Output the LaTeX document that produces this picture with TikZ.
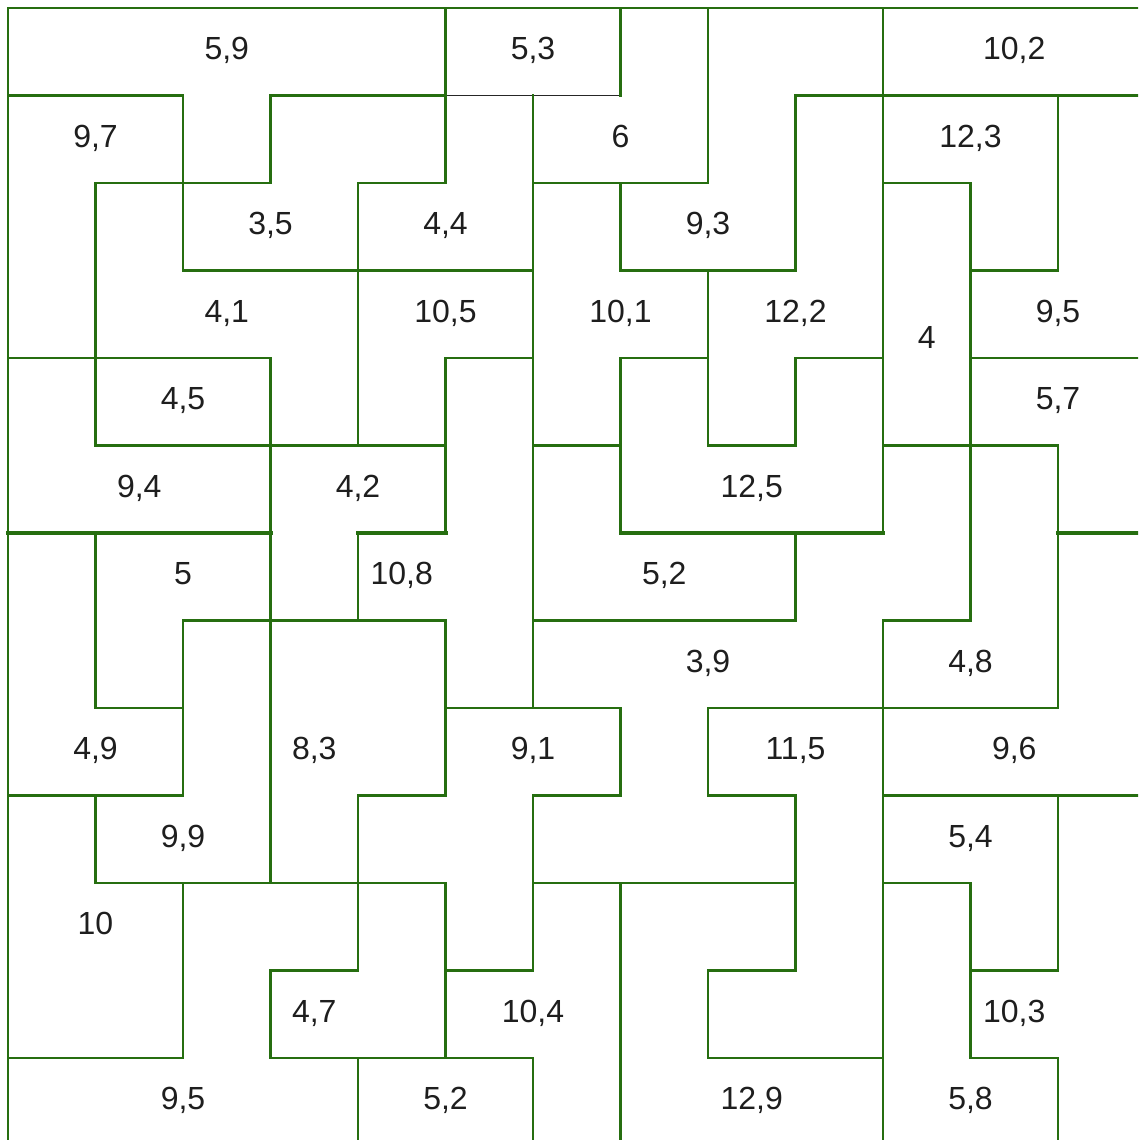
\documentclass[tikz,border=0pt]{standalone}
\usepackage{fontspec}
\setmainfont{Liberation Sans}
\definecolor{gridgreen}{RGB}{38,110,16}
\definecolor{labelgray}{RGB}{30,30,30}
\begin{document}
\begin{tikzpicture}[x=87.5pt,y=-87.5pt,
  wall/.style={draw=gridgreen,line width=2.6pt,line cap=rect},
  thickwall/.style={draw=gridgreen,line width=4pt,line cap=rect},
  thinwall/.style={draw=black!85,line width=1.1pt,line cap=rect},
  lab/.style={anchor=base,inner sep=0pt,font=\fontsize{32}{36}\selectfont,text=labelgray}]
\useasboundingbox[fill=white] (-0.091429,-0.091429) rectangle (12.914286,12.937143);
\clip (-0.091429,-0.091429) rectangle (12.914286,12.937143);
% horizontal walls: row/from/to
\foreach \r/\a/\b in {0/0/13,
  1/0/2, 1/3/5, 1/9/13,
  2/1/3, 2/4/5, 2/6/8, 2/10/11,
  3/2/6, 3/7/9, 3/11/12,
  4/0/3, 4/5/6, 4/7/8, 4/9/10, 4/11/13,
  5/1/5, 5/6/7, 5/8/9, 5/10/12,
  7/2/5, 7/6/9, 7/10/11,
  8/1/2, 8/5/7, 8/8/12,
  9/0/2, 9/4/5, 9/6/7, 9/8/9, 9/10/13,
  10/1/5, 10/6/9, 10/10/11,
  11/3/4, 11/5/6, 11/8/9, 11/11/12,
  12/0/2, 12/3/6, 12/8/10, 12/11/12}
  \draw[wall] (\a,\r) -- (\b,\r);
\foreach \r/\a/\b in {6/0/3, 6/4/5, 6/7/10, 6/12/13}
  \draw[thickwall] (\a,\r) -- (\b,\r);
\draw[thinwall] (5,1) -- (7,1);
% vertical walls: column/from/to
\foreach \c/\a/\b in {0/0/13,
  1/2/5, 1/6/8, 1/9/10,
  2/1/3, 2/7/9, 2/10/12,
  3/1/2, 3/4/10, 3/11/12,
  4/2/5, 4/6/7, 4/9/11, 4/12/13,
  5/0/2, 5/4/6, 5/7/9, 5/10/12,
  6/1/8, 6/9/11, 6/12/13,
  7/0/1, 7/2/3, 7/4/6, 7/8/9, 7/10/13,
  8/0/2, 8/3/5, 8/8/9, 8/11/12,
  9/1/3, 9/4/5, 9/6/7, 9/9/11,
  10/0/6, 10/7/13,
  11/2/7, 11/10/12,
  12/1/3, 12/5/8, 12/9/11, 12/12/13}
  \draw[wall] (\c,\a) -- (\c,\b);
% labels: x/row/text
\foreach \x/\y/\t [count=\i] in {
  2.5/0/{5,9}, 6/0/{5,3}, 11.5/0/{10,2},
  1/1/{9,7}, 7/1/{6}, 11/1/{12,3},
  3/2/{3,5}, 5/2/{4,4}, 8/2/{9,3},
  2.5/3/{4,1}, 5/3/{10,5}, 7/3/{10,1}, 9/3/{12,2}, 12/3/{9,5},
  10.5/3.3/{4},
  2/4/{4,5}, 12/4/{5,7},
  1.5/5/{9,4}, 4/5/{4,2}, 8.5/5/{12,5},
  2/6/{5}, 4.5/6/{10,8}, 7.5/6/{5,2},
  8/7/{3,9}, 11/7/{4,8},
  1/8/{4,9}, 3.5/8/{8,3}, 6/8/{9,1}, 9/8/{11,5}, 11.5/8/{9,6},
  2/9/{9,9}, 11/9/{5,4},
  1/10/{10},
  3.5/11/{4,7}, 6/11/{10,4}, 11.5/11/{10,3},
  2/12/{9,5}, 5/12/{5,2}, 8.5/12/{12,9}, 11/12/{5,8}}
  \node[lab] (lab\i) at (\x,\y+0.59) {\t};
\end{tikzpicture}
\end{document}
